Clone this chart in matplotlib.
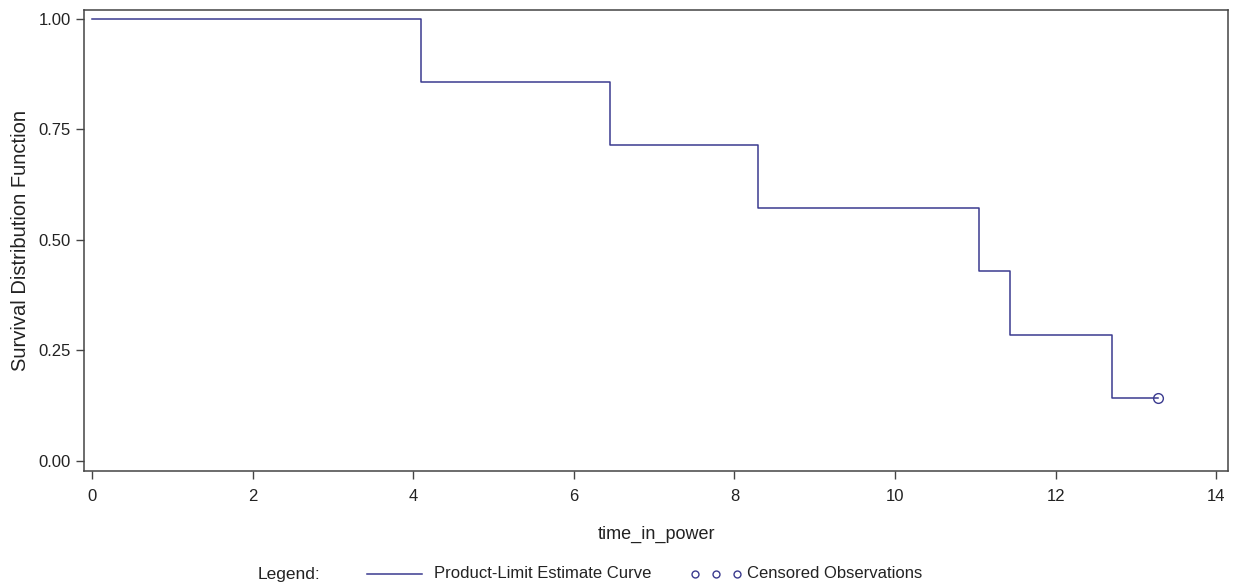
import matplotlib
matplotlib.use('Agg')
import matplotlib.pyplot as plt
from matplotlib.lines import Line2D

plt.rcParams['font.family'] = ['Liberation Sans', 'DejaVu Sans']

# Kaplan-Meier steps
times = [0, 4.1, 6.45, 8.3, 11.05, 11.43, 12.7, 13.28]
surv = [1.0, 6/7, 5/7, 4/7, 3/7, 2/7, 1/7, 1/7]
censor_t = [13.28]
censor_s = [1/7]

line_col = '#3b3b8f'
axis_col = '#444444'
txt_col = '#222222'

fig = plt.figure(figsize=(12.45, 5.88), dpi=100)
ax = fig.add_axes([0.0675, 0.199, 0.919, 0.784])

ax.step(times, surv, where='post', color=line_col, linewidth=1.1)
ax.plot(censor_t, censor_s, 'o', mfc='none', mec=line_col, ms=7, mew=1.0)

ax.set_xlim(-0.1, 14.15)
ax.set_ylim(-0.023, 1.02)
ax.set_xticks(range(0, 15, 2))
ax.set_yticks([0, 0.25, 0.5, 0.75, 1.0])
ax.set_yticklabels(['0.00', '0.25', '0.50', '0.75', '1.00'])
ax.tick_params(direction='out', length=6, width=1, colors=axis_col, labelcolor=txt_col,
               labelsize=12)
ax.tick_params(axis='x', pad=7)
for s in ax.spines.values():
    s.set_color(axis_col)
    s.set_linewidth(1.1)

ax.set_xlabel('time_in_power', fontsize=13, color=txt_col, labelpad=16)
ax.set_ylabel('Survival Distribution Function', fontsize=14.5, color=txt_col, labelpad=6)

# legend row at the bottom
ly = 1 - 574 / 588
fig.text(258 / 1245, ly, 'Legend:', fontsize=12.5, va='center', color=txt_col)
fig.add_artist(Line2D([367 / 1245, 422 / 1245], [ly] * 2, color=line_col,
                      linewidth=1.1, transform=fig.transFigure))
fig.text(434 / 1245, ly, 'Product-Limit Estimate Curve', fontsize=12,
         va='center', color=txt_col)
for cx in [695, 716, 737]:
    fig.add_artist(Line2D([cx / 1245], [ly], marker='o', mfc='none',
                          mec=line_col, ms=5, mew=1.0, transform=fig.transFigure))
fig.text(747 / 1245, ly, 'Censored Observations', fontsize=12,
         va='center', color=txt_col)

fig.savefig('out.png', dpi=100)
